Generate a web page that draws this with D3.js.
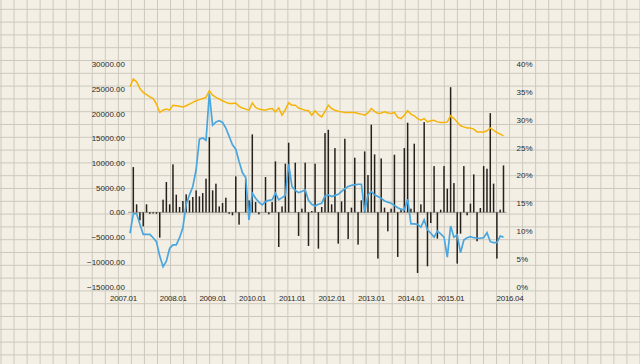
<!DOCTYPE html>
<html>
<head>
<meta charset="utf-8">
<script src="https://cdn.jsdelivr.net/npm/d3@7"></script>
<style>
  body { margin: 0; background: #f3efe4; }
  svg { display: block; }
  .axis text { font-family: "Liberation Sans", Arial, sans-serif; font-size: 8px; fill: #2e2a27; }
  .axis path, .axis line { display: none; }
</style>
</head>
<body>
<svg width="640" height="364"></svg>
<script>
// monthly net value (left axis), one per month
const barValues = [
    0, 9150, 1620, -1620, -2830, 1620, -300, -250, -300, -5120,
    2560, 6130, 1620, 9700, 3570, 1080, 2290, 3640, 2420, 3100,
    4440, 3230, 3900, 6800, 15200, 4440, 5800, 1200, 1880, 2960,
    -300, -600, 7270, -2490, 0, 6670, 2420, 15760, 2080, -400,
    0, 7140, -400, 2080, 10300, -7010, 1200, 9840, 14080, 0,
    10040, -4780, 740, 10040, -6800, 270, 9840, -7340, 1080, 16030,
    16700, 1620, 12990, -6330, 2220, 14880, -5390, 950, 11050, -6530,
    2420, 12320, 7540, 17720, 11720, -9350, 10900, 950, -3840, 740,
    11650, -9020, 740, 12990, 18120, 740, 13880, -12260, 1620, 18250,
    -10910, -2160, 9350, -5320, 540, 9350, 4780, 25310, 5920, -10370,
    -4310, 9350, -600, 1750, 7680, -5860, 870, 9350, 8820, 20060,
    5800, -9350, 540, 9490
];

// blue line, percent (right axis)
const blueValues = [
    9.6, 13.1, 13.1, 11.2, 9.4, 9.4, 9.4, 8.8, 8.1, 5.5,
    3.6, 4.6, 6.9, 7.5, 7.5, 8.8, 10.6, 14.8, 16.5, 18.0,
    21.0, 26.5, 26.7, 26.3, 34.7, 29.0, 29.6, 29.8, 29.5, 28.5,
    27.0, 25.5, 24.7, 22.5, 20.5, 19.6, 12.0, 16.8, 15.9, 15.2,
    14.7, 15.3, 15.5, 15.6, 16.8, 15.6, 16.0, 16.4, 22.0, 18.0,
    17.3, 16.9, 17.1, 17.4, 15.5, 14.8, 14.5, 14.8, 15.0, 16.3,
    16.5, 16.2, 16.4, 16.6, 17.1, 17.6, 18.0, 18.2, 18.3, 18.4,
    18.4, 13.5, 16.5, 17.1, 16.5, 16.2, 15.9, 15.4, 15.2, 15.0,
    14.6, 14.2, 13.9, 13.8, 15.7, 11.3, 11.3, 11.2, 10.7, 12.0,
    10.2, 9.6, 8.9, 10.0, 9.5, 8.9, 5.3, 10.9, 8.9, 9.3,
    6.1, 8.4, 8.8, 9.0, 8.8, 8.7, 8.7, 8.8, 9.7, 8.1,
    7.9, 7.9, 9.1, 8.9
];

// yellow line, percent (right axis)
const yellowValues = [
    35.9, 37.3, 36.8, 35.6, 34.9, 34.5, 34.1, 33.8, 32.8, 31.3,
    31.7, 31.9, 31.7, 32.6, 32.5, 32.4, 32.3, 32.5, 32.8, 33.1,
    33.4, 33.6, 33.8, 34.0, 35.2, 34.4, 34.0, 33.7, 33.4, 33.1,
    32.9, 32.9, 33.0, 32.4, 32.1, 31.9, 31.7, 33.0, 32.2, 31.9,
    31.8, 31.7, 31.9, 32.0, 31.4, 32.1, 30.8, 31.8, 33.0, 32.6,
    32.6, 32.1, 31.9, 31.7, 31.6, 30.8, 31.6, 30.9, 30.5, 31.5,
    32.6, 32.0, 31.7, 31.5, 31.4, 31.3, 31.3, 31.3, 31.3, 31.1,
    31.0, 30.8, 31.2, 32.0, 31.5, 31.1, 31.2, 31.4, 31.2, 31.1,
    31.3, 30.4, 30.2, 30.8, 31.6, 31.0, 30.7, 30.2, 29.9, 30.2,
    29.6, 29.8, 29.9, 29.6, 29.5, 29.5, 29.6, 30.7, 30.2, 29.6,
    28.9, 28.7, 28.5, 28.5, 28.3, 27.8, 27.8, 27.8, 28.0, 28.5,
    28.1, 27.7, 27.4, 27.1
];

const tickIdx = [0, 12, 24, 36, 48, 60, 72, 84, 96, 113];
const tickLabels = ['2007.01', '2008.01', '2009.01', '2010.01', '2011.01',
    '2012.01', '2013.01', '2014.01', '2015.01', '2016.04'];
const leftTicks = [-15000, -10000, -5000, 0, 5000, 10000, 15000, 20000, 25000, 30000];
const rightTicks = [0, 5, 10, 15, 20, 25, 30, 35, 40];

const W = 640, H = 364;
const svg = d3.select('svg');

// grid paper background
svg.append('rect').attr('width', W).attr('height', H).attr('fill', '#f3efe4');
const grid = svg.append('g').attr('stroke', '#cdc9bf').attr('stroke-width', 1);
grid.selectAll('.gv')
    .data(d3.range(1, W, 13.04))
    .enter().append('line')
    .attr('x1', d => d).attr('x2', d => d)
    .attr('y1', 0).attr('y2', H);
grid.selectAll('.gh')
    .data(d3.range(9.3, H, 12.8))
    .enter().append('line')
    .attr('y1', d => d).attr('y2', d => d)
    .attr('x1', 0).attr('x2', W);

const x = d3.scalePoint().domain(d3.range(barValues.length)).range([130, 503.5]);
const yL = d3.scaleLinear().domain([-15000, 30000]).range([286.5, 64]);
const yR = d3.scaleLinear().domain([0, 40]).range([286.7, 64]);

// zero line
svg.append('line')
    .attr('x1', x(0) - 2).attr('x2', x(barValues.length - 1) + 3)
    .attr('y1', yL(0)).attr('y2', yL(0))
    .attr('stroke', '#a29d94').attr('stroke-width', 1);

svg.append('g').selectAll('.bar')
    .data(barValues)
    .enter()
    .append('rect')
    .classed('bar', true)
    .attr('x', (d, i) => x(i) - 0.75)
    .attr('width', 1.5)
    .attr('y', d => yL(Math.max(0, d)))
    .attr('height', d => Math.abs(yL(d) - yL(0)))
    .attr('fill', '#26211d');

const line = d3.line().x((d, i) => x(i)).y(d => yR(d));

svg.append('path')
    .datum(yellowValues)
    .attr('d', line)
    .attr('fill', 'none')
    .attr('stroke', '#f6b40a')
    .attr('stroke-width', 1.5);

svg.append('path')
    .datum(blueValues)
    .attr('d', line)
    .attr('fill', 'none')
    .attr('stroke', '#4aa6df')
    .attr('stroke-width', 1.7);

svg.append('g')
    .attr('class', 'axis')
    .attr('transform', 'translate(127,0)')
    .call(d3.axisLeft(yL).tickValues(leftTicks).tickSize(0).tickPadding(2).tickFormat(d3.format('.2f')));

svg.append('g')
    .attr('class', 'axis')
    .attr('transform', 'translate(514.5,0)')
    .call(d3.axisRight(yR).tickValues(rightTicks).tickSize(0).tickPadding(2).tickFormat(d => d + '%'));

const xAxis = svg.append('g')
    .attr('class', 'axis')
    .attr('transform', 'translate(0,292)')
    .call(d3.axisBottom(x).tickValues(tickIdx).tickSize(0).tickPadding(3).tickFormat((d, i) => tickLabels[i]));

xAxis.selectAll('text')
    .attr('letter-spacing', -0.3)
    .attr('dx', (d, i) => i === 0 ? -7 : (i === tickIdx.length - 1 ? 6 : 3));
</script>
</body>
</html>
